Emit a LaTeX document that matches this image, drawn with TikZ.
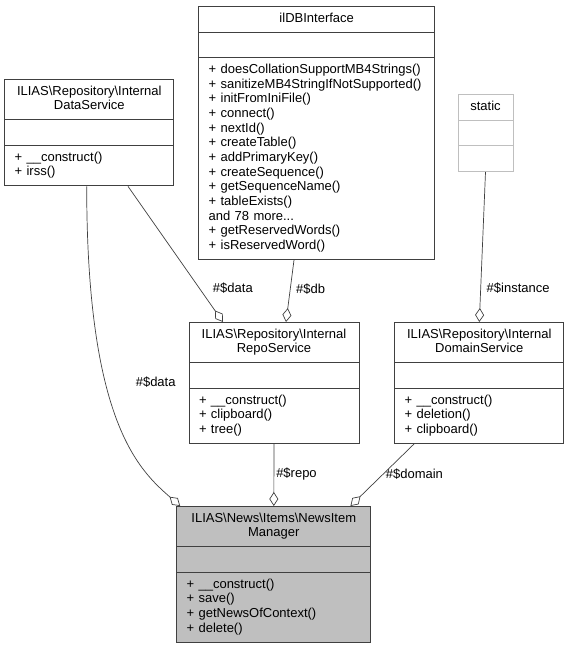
\documentclass[tikz,border=0pt]{standalone}
\usepackage{fontspec}
\setmainfont{Liberation Sans}
\usetikzlibrary{shapes.multipart,arrows.meta}
\setlength{\parindent}{0pt}
\hyphenpenalty=10000

\newcommand{\bsl}{\textbackslash}

\begin{document}
\begin{tikzpicture}[x=1pt,y=-1pt,
    umlclass/.style={rectangle split, rectangle split parts=3, draw=black!75, line width=1pt,
      fill=white, inner xsep=10pt, inner ysep=5pt, anchor=north,
      font=\fontsize{13}{14.67}\selectfont},
    focus/.style={umlclass, fill=black!25},
    ghost/.style={umlclass, draw=black!25}]
    \useasboundingbox (0,0) rectangle (569,647);
    % Top Row (used classes)
    \node [umlclass, text width=149.3pt] (dataservice) at (89.3,79)
      {\centering\strut ILIAS\bsl Repository\bsl Internal\\DataService\strut\par
       \nodepart{two}\strut
       \nodepart{three}\strut+ \_\_construct()\\+ irss()\strut};
    \node [umlclass, text width=216pt] (dbinterface) at (316.7,6)
      {\centering\strut ilDBInterface\strut\par
       \nodepart{two}\strut
       \nodepart{three}\strut+ doesCollationSupportMB4Strings()\\+ sanitizeMB4StringIfNotSupported()\\
       + initFromIniFile()\\+ connect()\\+ nextId()\\+ createTable()\\+ addPrimaryKey()\\
       + createSequence()\\+ getSequenceName()\\+ tableExists()\\and 78 more...\\
       + getReservedWords()\\+ isReservedWord()\strut};
    \node [ghost, text width=35pt] (static) at (485.5,94)
      {\centering\strut static\strut\par
       \nodepart{two}\strut
       \nodepart{three}\strut};
    % Middle Row (services)
    \node [umlclass, text width=150pt] (reposervice) at (274,322)
      {\centering\strut ILIAS\bsl Repository\bsl Internal\\RepoService\strut\par
       \nodepart{two}\strut
       \nodepart{three}\strut+ \_\_construct()\\+ clipboard()\\+ tree()\strut};
    \node [umlclass, text width=149.3pt] (domainservice) at (479.3,322)
      {\centering\strut ILIAS\bsl Repository\bsl Internal\\DomainService\strut\par
       \nodepart{two}\strut
       \nodepart{three}\strut+ \_\_construct()\\+ deletion()\\+ clipboard()\strut};
    % Bottom Row (the manager)
    \node [focus, text width=174.3pt] (manager) at (273.8,506)
      {\centering\strut ILIAS\bsl News\bsl Items\bsl NewsItem\\Manager\strut\par
       \nodepart{two}\strut
       \nodepart{three}\strut+ \_\_construct()\\+ save()\\+ getNewsOfContext()\\+ delete()\strut};
    \begin{scope}[draw=black!75, line width=0.7pt, >={Diamond[open,length=14pt,width=9pt]},
        every node/.style={font=\fontsize{13}{14}\selectfont, inner sep=2pt}]
      \draw [->] ([xshift=-2.6pt]dataservice.south) .. controls +(0,236) and +(-41,-36) ..
        node [pos=0.375, right=28pt] {\#\$data} ([xshift=4pt]manager.north west);
      \draw [->] ([xshift=38.7pt]dataservice.south) -- node [pos=0.754, right=11pt] {\#\$data} ([xshift=-51pt]reposervice.north);
      \draw [->] ([xshift=-22.7pt]dbinterface.south) -- node [pos=0.47, right=3.5pt] {\#\$db} ([xshift=12pt]reposervice.north);
      \draw [->] (static.south) -- node [pos=0.776, right=3.7pt] {\#\$instance} (domainservice.north);
      \draw [->] (reposervice.south) -- node [pos=0.48, right] {\#\$repo} (manager.north);
      \draw [->] ([xshift=-65.3pt]domainservice.south) -- node [pos=0.48, right] {\#\$domain} ([xshift=-21pt]manager.north east);
    \end{scope}
  \end{tikzpicture}
\end{document}
